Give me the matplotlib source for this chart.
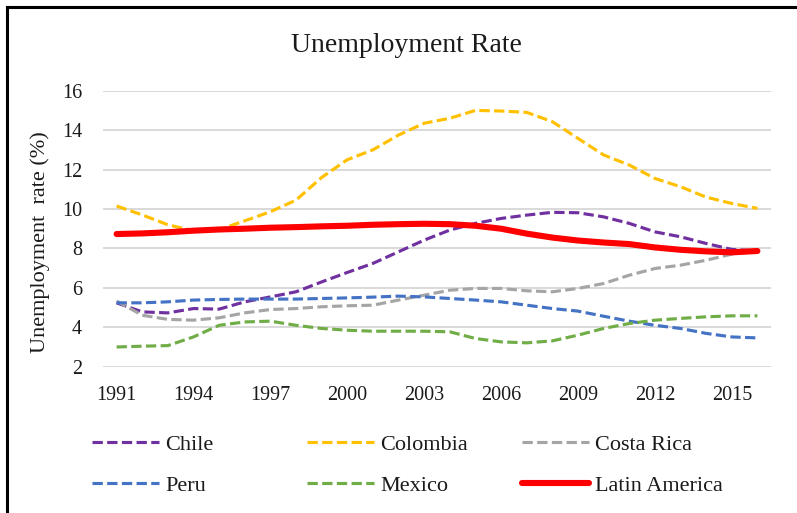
import matplotlib
matplotlib.use("Agg")
import matplotlib.pyplot as plt
from matplotlib.lines import Line2D

# ---- data -------------------------------------------------------------
years = list(range(1991, 2017))
tick_years = [1991, 1994, 1997, 2000, 2003, 2006, 2009, 2012, 2015]
y_ticks = [2, 4, 6, 8, 10, 12, 14, 16]

chile = [5.24, 4.78, 4.73, 4.95, 4.92, 5.29, 5.54, 5.80, 6.30, 6.78, 7.24, 7.83, 8.42,
         8.93, 9.27, 9.52, 9.69, 9.83, 9.81, 9.60, 9.27, 8.84, 8.59, 8.25, 7.95, 7.87]
colombia = [10.15, 9.70, 9.20, 8.90, 8.95, 9.40, 9.86, 10.45, 11.60, 12.50, 13.00, 13.75, 14.35,
            14.60, 15.00, 14.97, 14.90, 14.43, 13.58, 12.74, 12.23, 11.55, 11.13, 10.60, 10.28, 10.03]
costa_rica = [5.33, 4.61, 4.40, 4.36, 4.48, 4.73, 4.90, 4.95, 5.04, 5.09, 5.12, 5.38, 5.63,
              5.88, 5.97, 5.97, 5.85, 5.80, 5.97, 6.22, 6.64, 6.98, 7.15, 7.40, 7.71, 7.86]
peru = [5.24, 5.24, 5.29, 5.38, 5.41, 5.43, 5.43, 5.43, 5.46, 5.49, 5.53, 5.58, 5.54,
        5.46, 5.38, 5.29, 5.12, 4.95, 4.82, 4.56, 4.31, 4.10, 3.94, 3.69, 3.51, 3.46]
mexico = [3.00, 3.04, 3.07, 3.51, 4.10, 4.27, 4.31, 4.10, 3.94, 3.85, 3.80, 3.80, 3.80,
          3.77, 3.43, 3.26, 3.21, 3.31, 3.60, 3.94, 4.19, 4.36, 4.45, 4.53, 4.58, 4.58]
latin_america = [8.73, 8.76, 8.82, 8.90, 8.96, 9.00, 9.05, 9.08, 9.12, 9.15, 9.20, 9.23, 9.25,
                 9.23, 9.15, 9.00, 8.75, 8.55, 8.40, 8.30, 8.22, 8.05, 7.93, 7.85, 7.80, 7.87]

# ---- style ------------------------------------------------------------
W, H, DPI = 797, 513, 100
FONT = "Liberation Serif"
plt.rcParams["font.family"] = FONT
TEXT = "#1a1a1a"
GRID = "#d9d9d9"
DASH = (3.3, 1.4)
LW = 2.25

series = [
    ("Chile", chile, "#7030A0", "dash"),
    ("Colombia", colombia, "#FFC000", "dash"),
    ("Costa Rica", costa_rica, "#A5A5A5", "dash"),
    ("Peru", peru, "#4472C4", "dash"),
    ("Mexico", mexico, "#70AD47", "dash"),
    ("Latin America", latin_america, "#FF0000", "solid"),
]

fig = plt.figure(figsize=(W / DPI, H / DPI), dpi=DPI)
fig.patch.set_facecolor("white")

left, right = 103 / W, 771 / W
top, bottom = 1 - 90.7 / H, 1 - 366.7 / H
ax = fig.add_axes([left, bottom, right - left, top - bottom])

handles = {}
for name, vals, color, kind in series:
    if kind == "dash":
        (ln,) = ax.plot(years, vals, color=color, lw=LW, linestyle=(0, DASH),
                        dash_capstyle="butt", zorder=3)
    else:
        (ln,) = ax.plot(years, vals, color=color, lw=4.4, solid_capstyle="round",
                        solid_joinstyle="round", zorder=4)
    handles[name] = ln

ax.set_xlim(1990.47, 2016.53)
ax.set_ylim(2, 16)
ax.set_xticks(tick_years)
ax.set_yticks(y_ticks)
ax.tick_params(axis="both", length=0, labelsize=14.5, labelcolor=TEXT)
ax.tick_params(axis="y", pad=15)
ax.tick_params(axis="x", pad=14)
for s in ax.spines.values():
    s.set_visible(False)
ax.grid(axis="y", color=GRID, lw=1.4, zorder=0)
ax.set_axisbelow(True)

ax.set_ylabel("Unemployment  rate (%)", fontsize=16, color=TEXT)
ax.yaxis.set_label_coords(-0.080, 0.45)

fig.text(406.5 / W, 1 - 52.3 / H, "Unemployment Rate", ha="center", va="baseline",
         fontsize=20, color=TEXT)

# legend: three columns of two entries each
columns = [("Chile", "Peru"), ("Colombia", "Mexico"), ("Costa Rica", "Latin America")]
col_x = [92, 307, 522]
for x0, names in zip(col_x, columns):
    fig.legend([handles[n] for n in names], list(names), loc="upper left",
               bbox_to_anchor=(x0 / W, 1 - 434 / H), bbox_transform=fig.transFigure,
               frameon=False, fontsize=16, handlelength=3.0, handletextpad=0.3,
               labelspacing=0.95, borderpad=0, borderaxespad=0, labelcolor=TEXT)

# outer frame
fx, fy = 6.5 / W, 1 - 7 / H
fig.add_artist(Line2D([fx, fx], [0, fy], transform=fig.transFigure, color="black", lw=2.2))
fig.add_artist(Line2D([fx, 1], [fy, fy], transform=fig.transFigure, color="black", lw=2.2))

fig.savefig("out.png", dpi=DPI, facecolor="white")
